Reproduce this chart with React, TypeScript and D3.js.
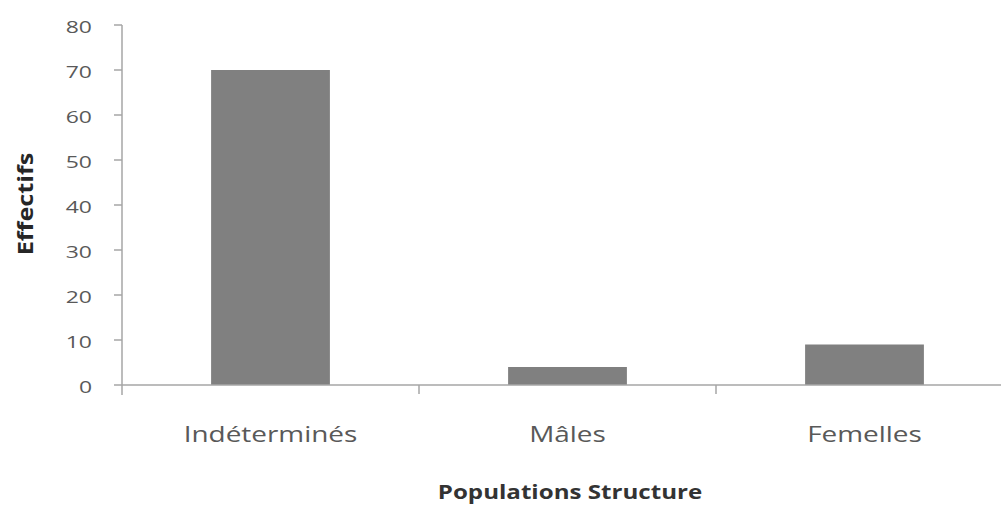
import React from "react";
import * as d3 from "d3";

const categories = ["Indéterminés", "Mâles", "Femelles"];
const values = [70, 4, 9];
const yTicks = [0, 10, 20, 30, 40, 50, 60, 70, 80];
const yTitle = "Effectifs";
const xTitle = "Populations Structure";

const font = "'Open Sans', 'Noto Sans', sans-serif";

function SText(props: { x: number; y: number; sx: number; anchor: string; size: number; weight?: string; fill: string; rotate?: number; children: React.ReactNode }) {
  return (
    <text
      transform={`translate(${props.x},${props.y}) rotate(${props.rotate || 0}) scale(${props.sx},1)`}
      textAnchor={props.anchor}
      fontFamily={font}
      fontSize={props.size}
      fontWeight={props.weight || "normal"}
      fill={props.fill}
    >
      {props.children}
    </text>
  );
}

export default function App() {
  const W = 1001, H = 506;
  const left = 122, right = 1013, top = 25, bottom = 385;
  const x = d3.scaleBand<string>().domain(categories).range([left, right]).paddingInner(0.6).paddingOuter(0.3);
  const xb = d3.scaleBand<string>().domain(categories).range([left, right]);
  const y = d3.scaleLinear().domain([0, 80]).range([bottom, top]);
  const axisColor = "#a6a6a6";
  const textColor = "#595959";
  return (
    <svg width={W} height={H} style={{ position: "absolute", left: 0, top: 0, background: "#fff" }}>
      {categories.map((c, i) => (
        <rect key={c} x={x(c)} y={y(values[i])} width={x.bandwidth()} height={bottom - y(values[i])} fill="#808080" />
      ))}
      <line x1={left} x2={left} y1={top} y2={bottom + 10} stroke={axisColor} strokeWidth={1.5} />
      <line x1={left} x2={W} y1={bottom} y2={bottom} stroke={axisColor} strokeWidth={1.5} />
      {yTicks.map((t) => (
        <g key={t}>
          <line x1={left - 8} x2={left} y1={y(t)} y2={y(t)} stroke={axisColor} strokeWidth={1.5} />
          <SText x={92} y={y(t) + 8} sx={1.35} anchor="end" size={17} fill={textColor}>{t}</SText>
        </g>
      ))}
      {categories.slice(1).map((c) => (
        <line key={c} x1={xb(c)} x2={xb(c)} y1={bottom} y2={bottom + 9} stroke={axisColor} strokeWidth={1.5} />
      ))}
      {categories.map((c) => (
        <SText key={c} x={(xb(c) as number) + xb.bandwidth() / 2} y={442} sx={1.27} anchor="middle" size={22} fill={textColor}>{c}</SText>
      ))}
      <SText x={33} y={204} rotate={-90} sx={1.15} anchor="middle" size={22} weight="bold" fill="#262626">{yTitle}</SText>
      <SText x={570} y={499} sx={1.27} anchor="middle" size={19} weight="bold" fill="#333">{xTitle}</SText>
    </svg>
  );
}
